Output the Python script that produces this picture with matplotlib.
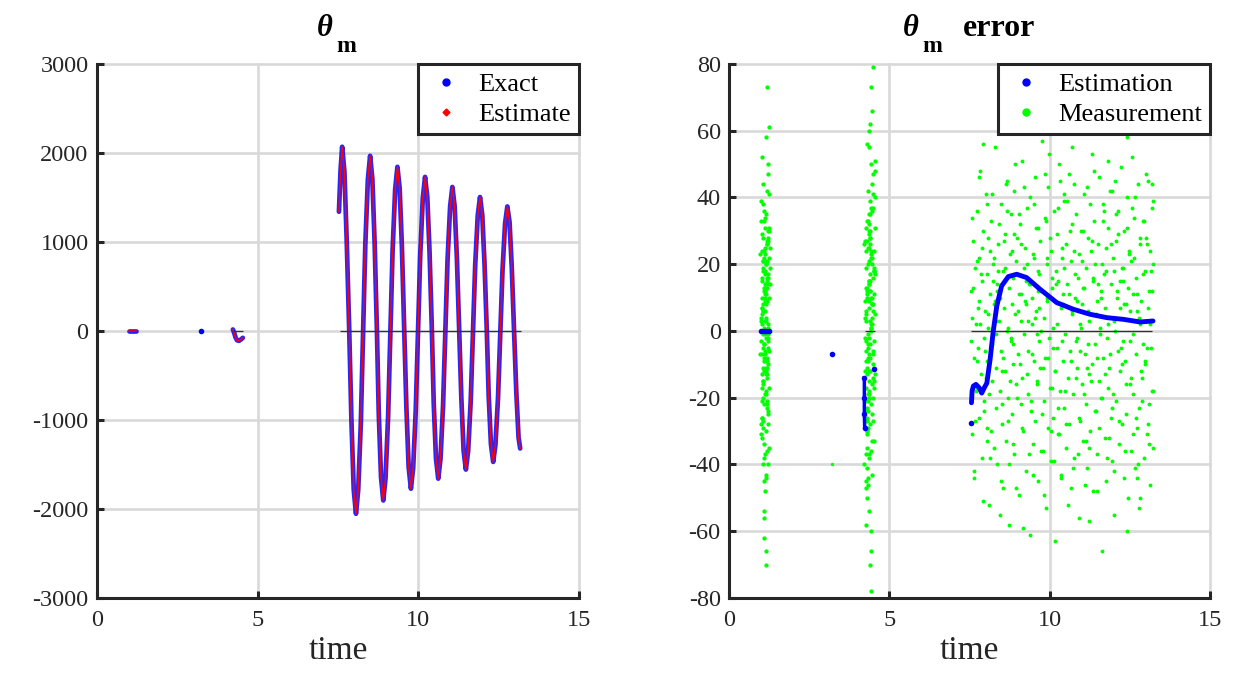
import matplotlib.pyplot as plt
from matplotlib.lines import Line2D

plt.rcParams['font.family'] = ['Liberation Serif', 'DejaVu Serif']
plt.rcParams['axes.unicode_minus'] = False

# ---- theta_m (left panel) ----
early1_t = [1.00, 1.05, 1.10, 1.15, 1.20]
early1_v = [0, 0, 0, 0, 0]
early2_t = [3.25]
early2_v = [0]
early3_t = [4.23, 4.27, 4.31, 4.36, 4.42, 4.48, 4.54]
early3_v = [17, -20, -70, -105, -110, -95, -77]

osc_t = [7.53, 7.58, 7.63,
         7.70, 7.77, 7.85, 7.92, 7.99, 8.06,
         8.13, 8.21, 8.28, 8.35, 8.43, 8.50,
         8.57, 8.64, 8.71, 8.77, 8.84, 8.91,
         8.98, 9.06, 9.13, 9.20, 9.28, 9.35,
         9.42, 9.49, 9.56, 9.63, 9.70, 9.77,
         9.84, 9.92, 9.99, 10.06, 10.14, 10.21,
         10.28, 10.35, 10.42, 10.48, 10.55, 10.62,
         10.69, 10.77, 10.84, 10.91, 10.99, 11.06,
         11.13, 11.20, 11.27, 11.34, 11.41, 11.48,
         11.55, 11.63, 11.70, 11.77, 11.85, 11.92,
         11.99, 12.06, 12.13, 12.19, 12.26, 12.33,
         12.40, 12.48, 12.55, 12.62, 12.70, 12.77,
         12.84, 12.91, 12.98, 13.05, 13.12, 13.17]
osc_exact = [1340, 1800, 2070,
             1794, 1039, 8, -1023, -1778, -2054,
             -1785, -1049, -43, 963, 1699, 1968,
             1709, 1000, 32, -936, -1645, -1904,
             -1653, -967, -30, 907, 1593, 1844,
             1602, 940, 36, -868, -1530, -1772,
             -1537, -896, -20, 856, 1497, 1731,
             1504, 884, 36, -812, -1432, -1659,
             -1439, -839, -20, 799, 1399, 1618,
             1405, 824, 30, -764, -1345, -1557,
             -1352, -792, -26, 740, 1300, 1505,
             1306, 761, 17, -727, -1272, -1471,
             -1279, -754, -36, 682, 1207, 1399,
             1220, 700, 0, -690, -1200, -1320]
# estimate sits on top of the exact curve at this scale
osc_est = osc_exact

zero_start_left = [4.23, 7.55]
zero_end_left = [4.55, 13.2]

# ---- theta_m error (right panel) ----
est_t = [7.56, 7.58, 7.62, 7.70, 7.80, 7.88, 7.96, 8.04, 8.14, 8.24, 8.35, 8.50,
         8.71, 8.97, 9.28, 9.70, 10.22, 10.74, 11.26, 11.78, 12.29, 12.82, 13.22]
est_v = [-21.5, -18, -16.5, -16, -17, -18.6, -17, -15.6, -8.6, 0, 7.5, 13.5,
         16.3, 17, 16, 12.5, 8.5, 6.5, 5, 4, 3.5, 2.7, 3]
est_extra_t = [1.00, 1.08, 1.16, 1.24, 3.22, 4.22, 4.22, 4.22, 4.23, 4.52, 7.56]
est_extra_v = [0, 0, 0, 0, -7, -14, -20, -25, -29, -11.5, -27.5]

zero_start_right = [1.00, 4.25, 7.55]
zero_end_right = [1.25, 4.55, 13.2]

cloud_t = [7.55, 7.57, 7.59, 7.62, 7.63, 7.65, 7.67, 7.69, 7.72, 7.73,
           7.76, 7.78, 7.80, 7.81, 7.84, 7.86, 7.88, 7.90, 7.91, 7.94,
           7.96, 7.98, 8.00, 8.03, 8.04, 8.06, 8.08, 8.10, 8.13, 8.14,
           8.17, 8.19, 8.21, 8.22, 8.25, 8.27, 8.29, 8.31, 8.32, 8.35,
           8.37, 8.39, 8.41, 8.44, 8.45, 8.47, 8.49, 8.51, 8.54, 8.55,
           8.58, 8.60, 8.62, 8.63, 8.66, 8.68, 8.70, 8.72, 8.73, 8.76,
           8.78, 8.80, 8.82, 8.85, 8.86, 8.88, 8.90, 8.92, 8.95, 8.96,
           8.99, 9.01, 9.03, 9.04, 9.07, 9.09, 9.11, 9.13, 9.14, 9.17,
           9.19, 9.21, 9.23, 9.26, 9.27, 9.29, 9.31, 9.33, 9.36, 9.37,
           9.40, 9.42, 9.44, 9.45, 9.48, 9.50, 9.52, 9.54, 9.55, 9.58,
           9.60, 9.62, 9.64, 9.67, 9.68, 9.70, 9.72, 9.74, 9.77, 9.78,
           9.81, 9.83, 9.85, 9.86, 9.89, 9.91, 9.93, 9.95, 9.96, 9.99,
           10.01, 10.03, 10.05, 10.08, 10.09, 10.11, 10.13, 10.15, 10.18, 10.19,
           10.22, 10.24, 10.26, 10.27, 10.30, 10.32, 10.34, 10.36, 10.37, 10.40,
           10.42, 10.44, 10.46, 10.49, 10.50, 10.52, 10.54, 10.56, 10.59, 10.60,
           10.63, 10.65, 10.67, 10.68, 10.71, 10.73, 10.75, 10.77, 10.78, 10.81,
           10.83, 10.85, 10.87, 10.90, 10.91, 10.93, 10.95, 10.97, 11.00, 11.01,
           11.04, 11.06, 11.08, 11.09, 11.12, 11.14, 11.16, 11.18, 11.19, 11.22,
           11.24, 11.26, 11.28, 11.31, 11.32, 11.34, 11.36, 11.38, 11.41, 11.42,
           11.45, 11.47, 11.49, 11.50, 11.53, 11.55, 11.57, 11.59, 11.60, 11.63,
           11.65, 11.67, 11.69, 11.72, 11.73, 11.75, 11.77, 11.79, 11.82, 11.83,
           11.86, 11.88, 11.90, 11.91, 11.94, 11.96, 11.98, 12.00, 12.01, 12.04,
           12.06, 12.08, 12.10, 12.13, 12.14, 12.16, 12.18, 12.20, 12.23, 12.24,
           12.27, 12.29, 12.31, 12.32, 12.35, 12.37, 12.39, 12.41, 12.42, 12.45,
           12.47, 12.49, 12.51, 12.54, 12.55, 12.57, 12.59, 12.61, 12.64, 12.65,
           12.68, 12.70, 12.72, 12.73, 12.76, 12.78, 12.80, 12.82, 12.83, 12.86,
           12.88, 12.90, 12.92, 12.95, 12.96, 12.98, 13.00, 13.02, 13.05, 13.06,
           13.09, 13.11, 13.13, 13.14, 13.16, 13.18, 13.19, 13.20, 13.21, 13.22]
cloud_v = [12, -31, 4, 27, -8, -44, 19, 2, -17, 36,
           -5, 22, -26, 9, 48, -13, -38, 15, 30, -2,
           -21, 6, 41, -29, 17, -9, 1, -52, 24, 11,
           33, -15, -4, 20, -35, 8, 55, -23, -11, 14,
           -40, 26, 3, -18, 10, -6, 38, -28, 18, -47,
           7, -12, 29, -33, 45, 0, -20, 13, -58, 23,
           -3, 35, -25, 16, -10, 42, -37, 5, 21, -16,
           28, -7, -49, 11, 32, -22, 3, 51, -14, -30,
           19, -1, 25, -42, 8, 37, -19, -6, 14, -61,
           40, -24, 10, 2, -34, 22, -9, 46, -27, 6,
           -15, 31, -45, 17, -3, 27, -36, 12, 57, -11,
           4, -21, 34, -8, -53, 20, 9, -29, 43, -2,
           -17, 24, -39, 13, 1, -26, 36, -12, -63, 18,
           29, -5, 15, -31, 50, -18, 7, -43, 22, -9,
           11, 39, -23, -1, 26, -35, 14, -14, 47, -28,
           -6, 21, -47, 32, 5, -19, 44, -38, 10, -3,
           35, -11, 16, -56, 23, 2, -27, 30, -16, 8,
           -33, 13, 41, -7, -22, 19, -41, 6, 28, -13,
           3, -30, 24, 53, -10, 15, -48, 33, -4, 20,
           -24, 9, -37, 26, -15, 46, 1, -20, 12, -66,
           38, -8, 17, -32, 7, -45, 25, -2, 31, -17,
           -11, 42, -26, 14, -39, 4, 22, -55, 18, 0,
           27, -21, 10, -6, 36, -34, 15, -12, 49, -28,
           -3, 19, -44, 30, -9, 8, -25, 40, -60, 13,
           23, -16, 6, -36, 21, 52, -19, -1, 34, -41,
           16, -7, -29, 11, 44, -23, 2, -50, 26, 9,
           -14, 33, -4, -38, 18, -10, 28, -31, 7, 45,
           -22, 12, -46, 24, -5, 37, -18, 3, -35, 20]

cloud2_t = [7.69, 7.58, 7.77, 7.64, 7.72, 7.56, 7.80, 7.66, 7.61, 7.74,
            7.88, 8.01, 7.93, 7.83, 8.05, 7.96, 7.86, 7.99, 7.91, 8.04,
            8.28, 8.15, 8.07, 8.23, 8.11, 8.20, 8.33, 8.17, 8.26, 8.09,
            8.47, 8.36, 8.55, 8.42, 8.50, 8.34, 8.58, 8.44, 8.39, 8.52,
            8.66, 8.79, 8.71, 8.61, 8.83, 8.74, 8.64, 8.77, 8.69, 8.82,
            9.06, 8.93, 8.85, 9.01, 8.89, 8.98, 9.11, 8.95, 9.04, 8.87,
            9.25, 9.14, 9.33, 9.20, 9.28, 9.12, 9.36, 9.22, 9.17, 9.30,
            9.44, 9.57, 9.49, 9.39, 9.61, 9.52, 9.42, 9.55, 9.47, 9.60,
            9.84, 9.71, 9.63, 9.79, 9.67, 9.76, 9.89, 9.73, 9.82, 9.65,
            10.03, 9.92, 10.11, 9.98, 10.06, 9.90, 10.14, 10.00, 9.95, 10.08,
            10.22, 10.35, 10.27, 10.17, 10.39, 10.30, 10.20, 10.33, 10.25, 10.38,
            10.62, 10.49, 10.41, 10.57, 10.45, 10.54, 10.67, 10.51, 10.60, 10.43,
            10.81, 10.70, 10.89, 10.76, 10.84, 10.68, 10.92, 10.78, 10.73, 10.86,
            11.00, 11.13, 11.05, 10.95, 11.17, 11.08, 10.98, 11.11, 11.03, 11.16,
            11.40, 11.27, 11.19, 11.35, 11.23, 11.32, 11.45, 11.29, 11.38, 11.21,
            11.59, 11.48, 11.67, 11.54, 11.62, 11.46, 11.70, 11.56, 11.51, 11.64,
            11.78, 11.91, 11.83, 11.73, 11.95, 11.86, 11.76, 11.89, 11.81, 11.94,
            12.18, 12.05, 11.97, 12.13, 12.01, 12.10, 12.23, 12.07, 12.16, 11.99,
            12.37, 12.26, 12.45, 12.32, 12.40, 12.24, 12.48, 12.34, 12.29, 12.42,
            12.56, 12.69, 12.61, 12.51, 12.73, 12.64, 12.54, 12.67, 12.59, 12.72,
            12.96, 12.83, 12.75, 12.91, 12.79, 12.88, 13.01, 12.85, 12.94, 12.77,
            13.15, 13.04, 13.22, 13.10, 13.18, 13.02, 13.21, 13.12, 13.07, 13.20]
cloud2_v = [-18, 34, 7, -42, 21, -3, 46, -27, 13, -9,
            25, -14, -51, 2, 38, -24, 17, -6, 56, -33,
            9, -38, 28, 15, -19, 41, -1, -30, 22, 5,
            -45, 12, -8, 32, -22, 3, 27, -55, 18, -12,
            36, -2, -27, 19, 8, -40, 44, -15, 1, 24,
            -10, 50, -34, 6, 29, -20, 11, -47, 35, -4,
            15, -29, 3, 43, -13, 26, -37, 9, -59, 20,
            -7, 31, -43, 14, -1, 38, -21, 4, 23, -16,
            47, -11, 18, -36, 7, -25, 33, 0, -49, 12,
            -30, 22, -5, 53, -17, 10, -39, 28, -8, 16,
            2, -44, 37, -12, 25, -31, 14, 45, -23, -3,
            30, -18, 8, -52, 19, 39, -9, -28, 11, 41,
            -14, 6, -37, 24, -2, 55, -26, 17, -41, 9,
            21, -33, 13, -6, 43, -19, 1, -46, 30, -11,
            -24, 38, -4, 16, -57, 27, 5, -15, 48, -35,
            10, -8, 33, -29, 20, -48, 36, -1, 14, -20,
            -38, 26, 2, -13, 42, -32, 18, -7, 51, -23,
            7, 45, -19, 29, -42, 12, -5, 35, -27, 3,
            -16, 19, -50, 8, 31, -10, 24, -36, 15, 58,
            37, -26, 11, -3, -44, 22, -14, 40, -31, 6,
            -9, 28, -40, 17, 4, -21, 47, -12, 33, -53,
            18, -5, 39, -34, 12, 26, -18, 2, -28, 44]

strip1_t = [1.03, 1.15, 1.08, 1.20, 1.11, 1.05, 1.18, 1.13, 1.09, 1.21,
            1.12, 1.04, 1.19, 1.07, 1.16, 1.10, 1.02, 1.14, 1.22, 1.06,
            1.17, 1.09, 1.13, 1.03, 1.20, 1.11, 1.06, 1.15, 1.08, 1.19,
            1.05, 1.21, 1.10, 1.14, 1.02, 1.18, 1.12, 1.07, 1.16, 1.04,
            1.11, 1.06, 1.17, 1.09, 1.13, 1.03, 1.20, 1.15, 1.05, 1.12,
            1.19, 1.08, 1.14, 1.22, 1.07, 1.16, 1.10, 1.04, 1.18, 1.13,
            1.06, 1.12, 1.02, 1.17, 1.09, 1.21, 1.14, 1.11, 1.03, 1.16,
            1.15, 1.05, 1.19, 1.08, 1.13, 1.10, 1.17, 1.06, 1.20, 1.09,
            1.10, 1.18, 1.07, 1.14, 1.04, 1.12, 1.16, 1.21, 1.08, 1.11,
            1.13, 1.03, 1.16, 1.09, 1.19, 1.06, 1.11, 1.14, 1.05, 1.17,
            0.99, 1.24, 1.06, 1.17, 1.27, 1.01, 1.12, 1.22, 1.08, 1.19,
            1.25, 1.04, 1.14, 0.98, 1.20, 1.10, 1.26, 1.02, 1.16, 1.23,
            1.07, 1.18, 1.00, 1.24, 1.13, 1.27, 1.05, 1.21, 0.99, 1.11,
            1.22, 1.01, 1.15, 1.26, 1.09, 1.19, 0.98, 1.25, 1.12, 1.03,
            1.17, 1.23, 1.04, 1.10, 1.27, 1.00, 1.20, 1.06, 1.24, 1.14,
            1.02, 1.16, 1.26, 1.08, 0.99, 1.21, 1.13, 1.25, 1.05, 1.18]
strip1_v = [5, -12, 22, -3, 14, -27, 9, 31, -8, 17,
            -19, 2, 26, -15, 11, -34, 7, 20, -5, 38,
            -22, 13, -1, 29, -10, 18, -40, 4, 24, -14,
            8, -25, 33, 0, -17, 15, -6, 44, -30, 10,
            -9, 21, -36, 12, 3, -21, 27, -13, 6, -48,
            16, -4, 35, -28, 19, -11, 1, 52, -23, 9,
            -16, 25, -7, 14, -56, 30, -2, 11, -32, 20,
            3, -20, 42, -9, 23, -38, 13, -1, 28, -62,
            18, -13, 6, 58, -26, 10, -44, 16, -4, 34,
            -7, 24, -18, 0, 73, -29, 12, -70, 21, -11,
            4, -17, 28, -8, 19, -31, 12, -2, 36, -21,
            -6, 15, -43, 23, 1, -12, 31, -26, 9, 47,
            18, -9, 39, -35, 6, 25, -15, 2, -28, 13,
            -1, 33, -19, 10, -54, 21, -7, 41, -37, 16,
            27, -24, 7, -45, 14, -3, 50, -11, 22, -66,
            -13, 8, 30, -22, 3, -40, 17, 61, -5, 26]

strip2_t = [4.27, 4.41, 4.33, 4.49, 4.36, 4.29, 4.45, 4.38, 4.31, 4.51,
            4.39, 4.26, 4.47, 4.32, 4.43, 4.35, 4.28, 4.40, 4.52, 4.30,
            4.44, 4.34, 4.37, 4.27, 4.50, 4.42, 4.31, 4.46, 4.33, 4.48,
            4.29, 4.51, 4.36, 4.40, 4.26, 4.45, 4.38, 4.32, 4.43, 4.28,
            4.37, 4.30, 4.46, 4.34, 4.41, 4.27, 4.49, 4.39, 4.31, 4.44,
            4.48, 4.33, 4.40, 4.52, 4.32, 4.42, 4.35, 4.28, 4.47, 4.38,
            4.30, 4.39, 4.26, 4.45, 4.34, 4.50, 4.41, 4.36, 4.29, 4.43,
            4.42, 4.28, 4.48, 4.33, 4.38, 4.35, 4.46, 4.31, 4.50, 4.37,
            4.35, 4.47, 4.32, 4.41, 4.29, 4.39, 4.44, 4.51, 4.34, 4.36,
            4.40, 4.27, 4.43, 4.36, 4.49, 4.31, 4.37, 4.42, 4.30, 4.46,
            4.23, 4.48, 4.30, 4.41, 4.55, 4.26, 4.36, 4.51, 4.33, 4.44,
            4.53, 4.28, 4.39, 4.22, 4.46, 4.35, 4.56, 4.25, 4.42, 4.50,
            4.31, 4.45, 4.24, 4.52, 4.38, 4.56, 4.29, 4.47, 4.23, 4.37,
            4.49, 4.26, 4.40, 4.55, 4.34, 4.43, 4.22, 4.54, 4.36, 4.27,
            4.43, 4.51, 4.28, 4.35, 4.56, 4.24, 4.46, 4.31, 4.53, 4.39,
            4.25, 4.40, 4.54, 4.32, 4.23, 4.48, 4.37, 4.52, 4.29, 4.44]
strip2_v = [-6, 15, -24, 8, 30, -13, 2, 21, -35, 11,
            26, -9, 4, -19, 37, -2, 13, -28, 18, -41,
            1, 33, -15, 24, -7, 10, -31, 44, -21, 6,
            -11, 19, -38, 28, 3, -25, 14, -4, 50, -17,
            9, -30, 22, -1, 35, -47, 16, -12, 27, -22,
            41, -8, 12, -33, 20, 0, -54, 31, -16, 7,
            -26, 17, 5, -43, 25, -10, 39, -20, 11, -60,
            23, -3, 47, -29, 14, -37, 8, 56, -14, 29,
            -19, 36, -5, 62, -23, 12, -66, 18, -9, 32,
            3, -45, 24, -12, 79, -27, 15, -78, 10, 66,
            9, -20, 33, -4, 17, -29, 25, -11, 42, -36,
            -15, 6, 28, -40, 20, -7, 48, -24, 1, 37,
            13, -33, 4, 24, -18, 31, -50, 10, -2, 55,
            -27, 19, -8, 40, -44, 2, 26, -13, 35, -58,
            22, -3, -37, 15, 51, -21, 8, -30, 18, -70,
            -12, 30, 5, -46, 27, -6, 60, -17, 12, 73]
lone_t = [3.22]
lone_v = [-40]

ink = '#262626'
fig = plt.figure(figsize=(12.43, 6.8), dpi=100)
ax1 = fig.add_axes([0.0780, 0.1206, 0.3878, 0.7853])
ax2 = fig.add_axes([0.5865, 0.1206, 0.3870, 0.7853])


def style(ax, lim, ticks):
    ax.set_xlim(0, 15)
    ax.set_ylim(lim)
    ax.set_xticks([0, 5, 10, 15])
    ax.set_yticks(ticks)
    ax.set_axisbelow(True)
    ax.grid(True, color='#d9d9d9', linewidth=1.9)
    for ln in ax.get_xgridlines() + ax.get_ygridlines():
        ln.set_clip_on(False)
    for s in ['top', 'right']:
        ax.spines[s].set_visible(False)
    for s in ['left', 'bottom']:
        ax.spines[s].set_linewidth(2.2)
        ax.spines[s].set_color(ink)
    ax.tick_params(direction='in', length=5, width=2.2, colors=ink,
                   labelsize=17.5)
    ax.tick_params(axis='x', pad=9)
    ax.tick_params(axis='y', pad=6)
    ax.set_xlabel('time', fontsize=24, color=ink, labelpad=3)


def title(ax, dx, word=None):
    # theta with a deep bold subscript m, as in the source figure
    kw = dict(xycoords='axes fraction', textcoords='offset points', va='baseline',
              color='black', fontweight='bold')
    ax.annotate('\u03b8', (0.5, 1), xytext=(dx, 20.5), ha='center',
                fontsize=22, fontstyle='italic', **kw)
    ax.annotate('m', (0.5, 1), xytext=(dx + 15.5, 8.5), ha='center',
                fontsize=17, **kw)
    if word:
        ax.annotate(word, (0.5, 1), xytext=(dx + 37, 20.5), ha='left',
                    fontsize=23, **kw)


def legend(ax, handles, labels):
    leg = ax.legend(handles, labels, loc='upper right', bbox_to_anchor=(1, 1),
                    borderaxespad=0, fancybox=False, edgecolor=ink, framealpha=1,
                    fontsize=19, handlelength=1.5, handletextpad=0.45,
                    labelspacing=0.25, borderpad=0.32)
    leg.get_frame().set_linewidth(2.2)


style(ax1, (-3000, 3000), range(-3000, 3001, 1000))
style(ax2, (-80, 80), range(-80, 81, 20))

# left panel
ax1.hlines([0] * len(zero_start_left), zero_start_left, zero_end_left,
           color='#333333', linewidth=0.9, zorder=4)
for t, v in [(early1_t, early1_v), (early3_t, early3_v), (osc_t, osc_exact)]:
    ax1.plot(t, v, color='blue', linewidth=3.4, alpha=0.85, solid_capstyle='round', zorder=2)
ax1.plot(early2_t, early2_v, 'o', color='blue', ms=3, zorder=2)
for t, v in [(early1_t, early1_v), (early3_t, early3_v), (osc_t, osc_est)]:
    ax1.plot(t, v, color='red', linewidth=1.1, zorder=3)

legend(ax1, [Line2D([], [], color='blue', marker='o', ls='none', ms=5),
             Line2D([], [], color='red', marker='D', ls='none', ms=3.5)],
       ['Exact', 'Estimate'])
title(ax1, -9.5)

# right panel
ax2.plot(strip1_t, strip1_v, ls='none', marker='o', color='#00ff00', ms=3.1, mew=0, zorder=2)
ax2.plot(strip2_t, strip2_v, ls='none', marker='o', color='#00ff00', ms=3.1, mew=0, zorder=2)
ax2.plot(cloud_t, cloud_v, ls='none', marker='o', color='#00ff00', ms=2.8, mew=0, zorder=2)
ax2.plot(cloud2_t, cloud2_v, ls='none', marker='o', color='#00ff00', ms=2.8, mew=0, zorder=2)
ax2.plot(lone_t, lone_v, ls='none', marker='o', color='#00ff00', ms=2.4, mew=0, zorder=2)
ax2.hlines([0] * len(zero_start_right), zero_start_right, zero_end_right,
           color='#333333', linewidth=0.9, zorder=3)
ax2.plot(est_t, est_v, color='blue', linewidth=3.5, solid_capstyle='round', zorder=4)
ax2.plot(est_extra_t, est_extra_v, 'o', color='blue', ms=3, zorder=4)
ax2.plot(est_extra_t[5:9], est_extra_v[5:9], color='blue', linewidth=2.5, zorder=4)
ax2.plot(est_extra_t[:4], est_extra_v[:4], color='blue', linewidth=2.5, zorder=4)

legend(ax2, [Line2D([], [], color='blue', marker='o', ls='none', ms=5),
             Line2D([], [], color='#00ff00', marker='o', ls='none', ms=5)],
       ['Estimation', 'Measurement'])
title(ax2, -42, 'error')

fig.savefig('out.png', dpi=100)
